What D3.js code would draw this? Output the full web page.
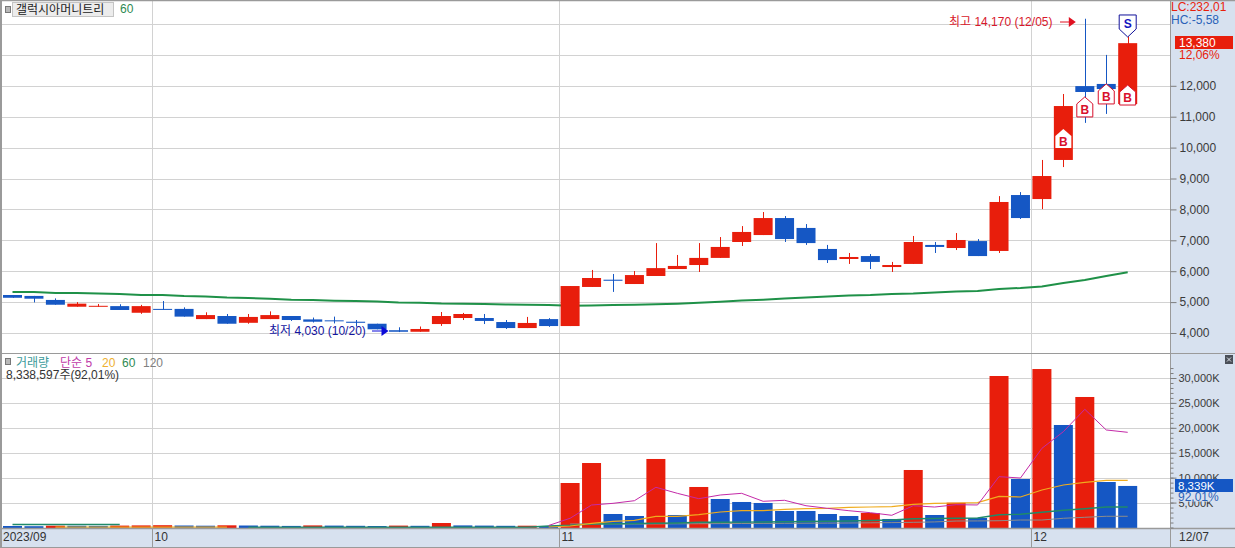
<!DOCTYPE html>
<html><head><meta charset="utf-8">
<script src="https://cdn.jsdelivr.net/npm/d3@7/dist/d3.min.js"></script>
<style>
html,body{margin:0;padding:0;background:#fff;overflow:hidden}
svg{display:block}
text{font-family:"Liberation Sans","Noto Sans CJK KR",sans-serif;font-size:11.5px}
</style></head><body>
<svg id="c" width="1235" height="548"></svg>
<script>
const tops=[5230,5200,5070,4950,4880,4870,4870,4780,4780,4580,4550,4520,4580,4550,4440,4410,4365,4300,4090,4130,4550,4615,4485,4355,4325,4450,5520,5780,5725,5875,6100,6170,6430,6785,7270,7720,7720,7400,6720,6460,6490,6200,6945,6850,7010,6975,8240,8465,9080,11345,11990,12060,13380];
const bottoms=[5140,5110,4915,4850,4850,4745,4655,4760,4530,4450,4300,4330,4450,4420,4365,4380,4330,4120,4040,4040,4290,4485,4390,4160,4160,4225,4225,5490,5690,5585,5845,6070,6200,6430,6945,7170,7040,6910,6360,6395,6300,6135,6235,6785,6750,6490,6655,7720,8335,9600,11800,11895,11410];
const highs=[5230,5200,5120,5000,4940,4930,4910,5035,4830,4670,4615,4615,4700,4550,4500,4530,4420,4300,4185,4210,4680,4650,4615,4420,4520,4480,5520,6040,5910,6005,6910,6525,6910,7105,7460,7915,7785,7525,6850,6590,6555,6300,7140,6945,7235,7040,8430,8560,9600,11735,14170,13000,13600];
const lows=[5140,4990,4915,4850,4850,4745,4620,4760,4530,4450,4300,4300,4450,4390,4340,4310,4205,4120,4030,4040,4230,4420,4290,4130,4160,4200,4225,5490,5330,5585,5845,6070,5975,6430,6815,7170,6945,6850,6265,6235,6070,5975,6235,6590,6685,6490,6590,7690,8010,9370,10800,11090,11410];
const upCandle=["b","b","b","r","r","b","r","b","b","r","b","r","r","b","b","b","b","b","b","r","r","r","b","b","r","b","r","r","b","r","r","r","r","r","r","r","b","b","b","r","b","r","r","b","r","b","r","b","r","r","b","b","r"];
const ma60=[5330,5330,5295,5295,5278,5262,5230,5230,5197,5181,5149,5133,5110,5078,5068,5045,5036,5019,4987,4981,4955,4948,4938,4922,4916,4906,4883,4890,4906,4916,4929,4948,4981,5013,5052,5078,5116,5149,5181,5214,5230,5262,5278,5311,5343,5359,5424,5456,5505,5618,5715,5845,5964];
const volumes=[300,260,360,340,320,380,420,460,400,360,440,400,360,320,420,380,340,300,380,340,900,420,380,340,360,300,8930,12940,2710,2310,13750,2510,8130,5720,5120,4920,3310,3310,2710,2310,2910,1710,11540,2510,4980,1910,30400,9730,31800,20570,26190,9130,8339];
const volMa5=[null,null,null,null,null,null,null,null,null,null,null,null,null,null,null,null,null,null,null,null,null,null,null,null,null,400,1850,4515,4850,5380,8070,6860,5780,6520,6860,5260,5460,4370,3850,3370,2970,2450,4370,4110,4580,4520,10200,9930,15890,19230,23720,19570,19100];
const volMa20=[null,null,60,60,60,60,60,60,60,60,60,null,null,null,null,null,null,null,null,null,null,null,null,null,null,100,300,840,1240,1440,2250,2250,2570,3110,3370,3370,3650,3770,3850,4050,4110,4170,4650,4850,4920,4980,6260,6120,7530,8530,9070,9470,9470];
const volMa60=[600,600,600,600,600,600,null,null,null,null,null,60,60,60,60,60,60,60,60,60,60,60,60,60,60,300,440,700,760,800,850,900,1040,1060,1080,1100,1150,1200,1250,1300,1400,1500,1770,1800,1850,1910,2570,2650,3050,3450,3770,4110,4110];
const volMa120=[null,null,null,null,null,null,null,null,null,null,null,null,null,null,null,null,null,null,null,null,null,null,null,null,null,null,700,700,700,700,720,740,760,780,800,820,840,860,880,900,940,980,1040,1120,1300,1320,1360,1500,1500,1850,2050,2250,2250];
const priceTicks=[4000,5000,6000,7000,8000,9000,10000,11000,12000];
const priceGrid=[4000,5000,6000,7000,8000,9000,10000,11000,12000,13000,14000];
const volTicks=[5000,10000,15000,20000,25000,30000];
const monthPos=[-0.45,6.5,25.5,47.5];
const monthLabels=["2023/09","10","11","12"];
const buyIdx=[49,50,51,52];
const buyPrice=[10600,11640,12060,12025];
const sellIdx=[52];
const sellPrice=[13580];

const RED="#e81e0c",BLUE="#1557c4",GRID="#d2d2d2",STRIP="#d7e1ef",FRAME="#9a9a9a";
const W=1235,H=548,AX=1170;
const svg=d3.select("#c");
const x=d3.scaleLinear().domain([0,52]).range([12.5,1127.7]);
const y=d3.scaleLinear().domain([4000,14000]).range([333,24]);
const v=d3.scaleLinear().domain([0,30000]).range([527.5,378]);
const BW=19;

svg.append("rect").attr("width",W).attr("height",H).attr("fill","#fff");
// grid
const g=svg.append("g");
g.selectAll(".gp").data(priceGrid).join("line").attr("x1",2).attr("x2",AX).attr("y1",d=>Math.round(y(d))+.5).attr("y2",d=>Math.round(y(d))+.5).attr("stroke",GRID);
g.selectAll(".gv").data(volTicks).join("line").attr("x1",2).attr("x2",AX).attr("y1",d=>Math.round(v(d))+.5).attr("y2",d=>Math.round(v(d))+.5).attr("stroke",GRID);
g.selectAll(".gm").data(monthPos.slice(1)).join("line").attr("x1",d=>Math.round(x(d))+.5).attr("x2",d=>Math.round(x(d))+.5).attr("y1",0).attr("y2",547).attr("stroke",GRID);

// MA60 price
const ln=d3.line().x((d,i)=>x(i)).y(d=>y(d));
svg.append("path").attr("d",ln(ma60)).attr("fill","none").attr("stroke","#1f9148").attr("stroke-width",2);

// candles
const cg=svg.append("g");
tops.forEach((t,i)=>{
  const col=upCandle[i]==="r"?RED:BLUE;
  cg.append("line").attr("x1",Math.round(x(i))+.5).attr("x2",Math.round(x(i))+.5).attr("y1",y(highs[i])).attr("y2",y(lows[i])).attr("stroke",col).attr("stroke-width",1);
  const h=Math.max(y(bottoms[i])-y(t),1);
  cg.append("rect").attr("x",x(i)-BW/2).attr("width",BW).attr("y",y(t)).attr("height",h).attr("fill",col);
});

// volume bars
svg.append("g").selectAll("rect").data(volumes).join("rect")
 .attr("x",(d,i)=>x(i)-BW/2).attr("width",BW).attr("y",d=>v(d)).attr("height",d=>v(0)-v(d)+.5)
 .attr("fill",(d,i)=>(i>0&&d>volumes[i-1])?RED:BLUE);
const vl=d3.line().defined(d=>d!=null).x((d,i)=>x(i)).y(d=>v(d));
svg.append("path").attr("d",vl(volMa120)).attr("fill","none").attr("stroke","#8c8c8c").attr("stroke-width",1);
svg.append("path").attr("d",vl(volMa60)).attr("fill","none").attr("stroke","#1f8a6a").attr("stroke-width",1.4);
svg.append("path").attr("d",vl(volMa20)).attr("fill","none").attr("stroke","#f0ac1e").attr("stroke-width",1.2);
svg.append("path").attr("d",vl(volMa5)).attr("fill","none").attr("stroke","#c42aa8").attr("stroke-width",1);

// buy/sell markers
const BC="#d8102c";
buyIdx.forEach((idx,k)=>{
  const cx=x(idx),ty=y(buyPrice[k]),first=k===0;
  const p=d3.path();p.moveTo(cx,ty);p.lineTo(cx+8,ty+7);p.lineTo(cx+8,ty+(first?19:20));p.lineTo(cx-8,ty+(first?19:20));p.lineTo(cx-8,ty+7);p.closePath();
  svg.append("path").attr("d",p.toString()).attr("fill","#fff").attr("stroke",first?"none":BC).attr("stroke-width",1);
  svg.append("text").attr("x",cx).attr("y",ty+17).attr("text-anchor","middle").attr("fill",BC).attr("font-weight","700").style("font-size","12px").text("B");
});
sellIdx.forEach((idx,k)=>{
  const cx=x(idx),ty=y(sellPrice[k]);
  const p=d3.path();p.moveTo(cx,ty);p.lineTo(cx+8.5,ty-8);p.lineTo(cx+8.5,ty-22);p.lineTo(cx-8.5,ty-22);p.lineTo(cx-8.5,ty-8);p.closePath();
  svg.append("path").attr("d",p.toString()).attr("fill","#fff").attr("stroke","#10109a").attr("stroke-width",1);
  svg.append("text").attr("x",cx).attr("y",ty-9).attr("text-anchor","middle").attr("fill","#1515c0").attr("font-weight","700").style("font-size","12px").text("S");
});

// annotations
function arrow(x1,x2,yy,col){
  svg.append("line").attr("x1",x1).attr("x2",x2-6).attr("y1",yy).attr("y2",yy).attr("stroke",col);
  svg.append("path").attr("d",`M${x2},${yy}L${x2-7},${yy-5}L${x2-7},${yy+5}Z`).attr("fill",col);
}
svg.append("text").attr("x",949).attr("y",26).attr("fill","#d8182c").style("font-size","12px").text("최고 14,170 (12/05)");
arrow(1060,x(50)-9,22,"#e01020");
svg.append("text").attr("x",269).attr("y",335).attr("fill","#1414a0").style("font-size","12px").text("최저 4,030 (10/20)");
arrow(372,x(18)-10,331,"#0b0bd8");

// right strip + bottom strip
svg.append("rect").attr("x",AX).attr("y",0).attr("width",W-AX).attr("height",H).attr("fill",STRIP);
svg.append("rect").attr("x",0).attr("y",529).attr("width",W).attr("height",18).attr("fill",STRIP);
svg.append("line").attr("x1",0).attr("x2",W).attr("y1",353.5).attr("y2",353.5).attr("stroke",FRAME);
svg.append("line").attr("x1",0).attr("x2",W).attr("y1",528.5).attr("y2",528.5).attr("stroke",FRAME).attr("stroke-width",1.5);
svg.append("line").attr("x1",0).attr("x2",W).attr("y1",547.5).attr("y2",547.5).attr("stroke",FRAME);
svg.append("line").attr("x1",0).attr("x2",W).attr("y1",.5).attr("y2",.5).attr("stroke",FRAME).attr("stroke-width",1.5);
svg.append("rect").attr("width",2).attr("height",H).attr("fill",FRAME);
svg.append("line").attr("x1",AX+.5).attr("x2",AX+.5).attr("y1",0).attr("y2",H).attr("stroke",FRAME);

// month ticks
monthPos.forEach((p,i)=>{
  const px=i===0?0:Math.round(x(p))+.5;
  if(i>0)svg.append("line").attr("x1",px).attr("x2",px).attr("y1",529).attr("y2",547).attr("stroke",FRAME);
  svg.append("text").attr("x",i===0?3:px+2).attr("y",541).attr("fill","#333").style("font-size","12px").text(monthLabels[i]);
});
svg.append("line").attr("x1",AX+.5).attr("x2",AX+.5).attr("y1",529).attr("y2",547).attr("stroke",FRAME);
svg.append("text").attr("x",1179).attr("y",541).attr("fill","#333").style("font-size","12px").text("12/07");

// axes
const ax1=svg.append("g").attr("transform",`translate(${AX+.5},0)`).call(d3.axisRight(y).tickValues(priceTicks).tickFormat(d3.format(",")).tickSize(6).tickPadding(3));
const ax2=svg.append("g").attr("transform",`translate(${AX+.5},0)`).call(d3.axisRight(v).tickValues(d3.range(0,33000,1000)).tickFormat("").tickSize(3));
const ax3=svg.append("g").attr("transform",`translate(${AX+.5},0)`).call(d3.axisRight(v).tickValues(volTicks).tickFormat(d=>d3.format(",")(d)+"K").tickSize(6).tickPadding(2));
[ax1,ax2,ax3].forEach(a=>{a.select(".domain").remove();a.selectAll("line").attr("stroke","#7d7d7d");a.selectAll("text").attr("fill","#3a3a3a").style("font-size","12px").style("font-family",'"Liberation Sans",sans-serif');});
ax3.selectAll("text").style("font-size","11px");

// right labels
const rt=(tx,ty,s,c,fs)=>svg.append("text").attr("x",tx).attr("y",ty).attr("fill",c).style("font-size",(fs||12)+"px").text(s);
rt(1171,11,"LC:232,01",RED);
rt(1171,24,"HC:-5,58","#2a62b8");
svg.append("rect").attr("x",1175).attr("y",36).attr("width",58).attr("height",13).attr("fill",RED);
rt(1179,47,"13,380","#fff");
svg.append("rect").attr("x",1177).attr("y",49).attr("width",42).attr("height",11).attr("fill",STRIP);
rt(1179,59,"12,06%",RED);
svg.append("rect").attr("x",1175).attr("y",479).attr("width",58).attr("height",13).attr("fill",BLUE);
rt(1178,490,"8,339K","#fff",11.5);
svg.append("rect").attr("x",1176).attr("y",492).attr("width",45).attr("height",9.5).attr("fill",STRIP);
rt(1178,501,"92,01%","#2a62b8");
// panel button
svg.append("rect").attr("x",1225).attr("y",355).attr("width",8).attr("height",9).attr("fill","#4a4f58");
svg.append("path").attr("d","M1227,357.5L1231,361.5M1231,357.5L1227,361.5").attr("stroke","#dfe3ea").attr("fill","none");

// legends
const sq=(sx,sy)=>svg.append("rect").attr("x",sx).attr("y",sy).attr("width",5).attr("height",6).attr("fill","#b8b8b8").attr("stroke","#777");
sq(5.5,6.5);
svg.append("rect").attr("x",12.5).attr("y",2.5).attr("width",101).attr("height",14).attr("fill","#ececec").attr("stroke","#c4c4c4");
svg.append("text").attr("x",16).attr("y",13.5).attr("fill","#222").style("font-size","12px").text("갤럭시아머니트리");
svg.append("text").attr("x",120).attr("y",13).attr("fill","#2f8a52").style("font-size","12px").text("60");
sq(5.5,358.5);
const leg=[[16,"거래량","#3b9a9a"],[60,"단순 5","#c03aa8"],[102,"20","#eeb030"],[122,"60","#2f8a52"],[143,"120","#808080"]];
leg.forEach(d=>svg.append("text").attr("x",d[0]).attr("y",367).attr("fill",d[2]).style("font-size","12px").text(d[1]));
svg.append("text").attr("x",6).attr("y",379).attr("fill","#333").style("font-size","12px").text("8,338,597주(92,01%)");
</script>
</body></html>
